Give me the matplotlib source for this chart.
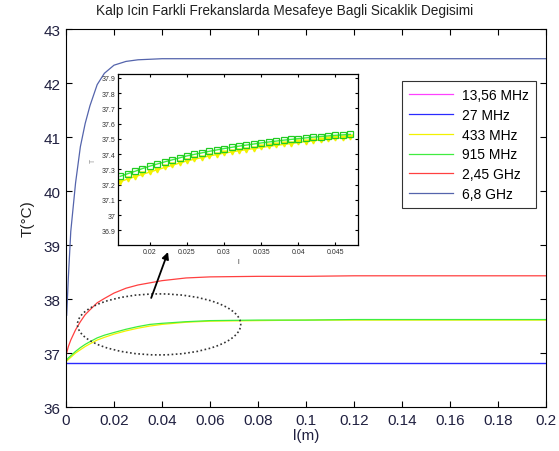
import matplotlib
matplotlib.use("Agg")
import matplotlib.pyplot as plt
from matplotlib.patches import Ellipse

plt.rcParams['font.family'] = ['Liberation Sans', 'DejaVu Sans']

# ---------------- data ----------------
title = "Kalp Icin Farkli Frekanslarda Mesafeye Bagli Sicaklik Degisimi"
labels = ["13,56 MHz", "27 MHz", "433 MHz", "915 MHz", "2,45 GHz", "6,8 GHz"]
colors = ["#ff40ff", "#2a2aff", "#f2f200", "#3fee3f", "#ff4040", "#5464ac"]

x = [0, 0.001, 0.002, 0.004, 0.006, 0.008, 0.01, 0.013, 0.016, 0.02, 0.025,
     0.03, 0.035, 0.04, 0.05, 0.06, 0.08, 0.1, 0.12, 0.15, 0.2]
x_68 = [0.0003, 0.001, 0.002, 0.004, 0.006, 0.008, 0.01, 0.013, 0.016, 0.02, 0.025,
        0.03, 0.035, 0.04, 0.05, 0.06, 0.08, 0.1, 0.12, 0.15, 0.2]

t_1356 = [36.82] * 21
t_27 = [36.82] * 21
t_433 = [36.84, 36.88, 36.92, 37.00, 37.06, 37.12, 37.17, 37.24, 37.29, 37.35, 37.41,
         37.46, 37.50, 37.53, 37.57, 37.59, 37.60, 37.61, 37.61, 37.61, 37.61]
t_915 = [36.86, 36.91, 36.95, 37.03, 37.10, 37.16, 37.21, 37.28, 37.33, 37.38, 37.44,
         37.49, 37.53, 37.55, 37.58, 37.60, 37.61, 37.61, 37.62, 37.62, 37.62]
t_245 = [36.95, 37.12, 37.24, 37.43, 37.58, 37.71, 37.80, 37.93, 38.01, 38.11, 38.20,
         38.26, 38.30, 38.34, 38.39, 38.41, 38.42, 38.42, 38.43, 38.43, 38.43]
t_68 = [37.70, 38.40, 39.25, 40.15, 40.82, 41.25, 41.58, 41.97, 42.18, 42.33, 42.40,
        42.43, 42.44, 42.45, 42.45, 42.45, 42.45, 42.45, 42.45, 42.45, 42.45]

# inset (zoomed) data
xi = [0.016, 0.017, 0.018, 0.019, 0.020, 0.021, 0.022, 0.023, 0.024, 0.025, 0.026,
      0.027, 0.028, 0.029, 0.030, 0.031, 0.032, 0.033, 0.034, 0.035, 0.036, 0.037,
      0.038, 0.039, 0.040, 0.041, 0.042, 0.043, 0.044, 0.045, 0.046, 0.047]
gi = [37.255, 37.272, 37.288, 37.306, 37.322, 37.336, 37.350, 37.363, 37.376, 37.389,
      37.399, 37.409, 37.419, 37.428, 37.437, 37.445, 37.453, 37.460, 37.467, 37.474,
      37.480, 37.486, 37.492, 37.497, 37.502, 37.507, 37.512, 37.516, 37.520, 37.524,
      37.527, 37.530]
yi = [37.220, 37.237, 37.253, 37.268, 37.283, 37.298, 37.313, 37.327, 37.342, 37.356,
      37.367, 37.378, 37.388, 37.398, 37.407, 37.415, 37.423, 37.430, 37.437, 37.444,
      37.451, 37.458, 37.464, 37.470, 37.477, 37.483, 37.488, 37.494, 37.499, 37.504,
      37.507, 37.510]

xticks = [0, 0.02, 0.04, 0.06, 0.08, 0.1, 0.12, 0.14, 0.16, 0.18, 0.2]
xticklabels = ["0", "0.02", "0.04", "0.06", "0.08", "0.1", "0.12", "0.14", "0.16", "0.18", "0.2"]
yticks = [36, 37, 38, 39, 40, 41, 42, 43]
ixticks = [0.02, 0.025, 0.03, 0.035, 0.04, 0.045]
ixticklabels = ["0.02", "0.025", "0.03", "0.035", "0.04", "0.045"]
iyticks = [36.9, 37.0, 37.1, 37.2, 37.3, 37.4, 37.5, 37.6, 37.7, 37.8, 37.9]
iyticklabels = ["36.9", "37", "37.1", "37.2", "37.3", "37.4", "37.5", "37.6", "37.7", "37.8", "37.9"]

tick_color = "#202040"

fig = plt.figure(figsize=(5.59, 4.52), dpi=100)
ax = fig.add_axes([0.118, 0.0973, 0.859, 0.8363])

series = [(x, t_1356), (x, t_27), (x, t_433), (x, t_915), (x, t_245), (x_68, t_68)]
widths = [0.4, 1.0, 0.9, 0.9, 0.9, 0.9]
for (xs, ys), lab, c, w in zip(series, labels, colors, widths):
    line, = ax.plot(xs, ys, color=c, lw=w, label=lab)

ax.set_xlim(0, 0.2)
ax.set_ylim(36, 43)
ax.set_xticks(xticks)
ax.set_xticklabels(xticklabels)
ax.set_yticks(yticks)
ax.tick_params(direction='in', top=True, right=True, length=4, width=0.8,
               labelsize=11, colors='black', labelcolor=tick_color, pad=4)
for s in ax.spines.values():
    s.set_linewidth(0.8)
ax.set_title(title, fontsize=9.8, pad=11, color='#202020', x=0.456)
ax.set_xlabel("l(m)", fontsize=11, labelpad=1, color=tick_color)
ax.set_ylabel("T(°C)", fontsize=11, labelpad=6, color='#202020')

leg = ax.legend(loc='upper left', bbox_to_anchor=(0.7, 0.8624), fontsize=10,
                frameon=True, fancybox=False, handlelength=3.2, handletextpad=0.6,
                labelspacing=0.42, borderpad=0.5, borderaxespad=0)
leg.get_frame().set_edgecolor('black')
leg.get_frame().set_linewidth(0.8)
for h in leg.get_lines():
    h.set_linewidth(0.9)

# ellipse and arrow
ell = Ellipse((0.0388, 37.53), 0.068, 1.13, fill=False, edgecolor='#333333',
              linestyle=(0, (1, 1.5)), lw=1.2, zorder=5)
ax.add_patch(ell)
ax.annotate("", xy=(0.0425, 38.87), xytext=(0.0355, 38.02),
            arrowprops=dict(arrowstyle='-|>', color='black', lw=1.3,
                            mutation_scale=10, shrinkA=0, shrinkB=0), zorder=6)

# inset
ins = fig.add_axes([0.211, 0.4558, 0.429, 0.378])
ins.plot(xi, yi, color=colors[2], lw=1.0, marker='v', markersize=3.5,
         markerfacecolor=colors[2], markeredgecolor=colors[2])
ins.plot(xi, gi, color=colors[3], lw=1.0, marker='s', markersize=4.5,
         markerfacecolor='none', markeredgecolor='#22cc22', markeredgewidth=0.9)
ins.set_xlim(0.0157, 0.048)
ins.set_ylim(36.805, 37.925)
ins.set_xticks(ixticks)
ins.set_xticklabels(ixticklabels)
ins.set_yticks(iyticks)
ins.set_yticklabels(iyticklabels)
ins.tick_params(direction='in', top=True, right=True, length=2.5, width=0.8,
                labelsize=5, labelcolor='#303030', pad=2)
for s in ins.spines.values():
    s.set_linewidth(0.9)
ins.set_xlabel("l", fontsize=5, labelpad=2, color='#303030')
ins.set_ylabel("T", fontsize=5, labelpad=3, color='#909090')

fig.savefig("out.png", dpi=100)
